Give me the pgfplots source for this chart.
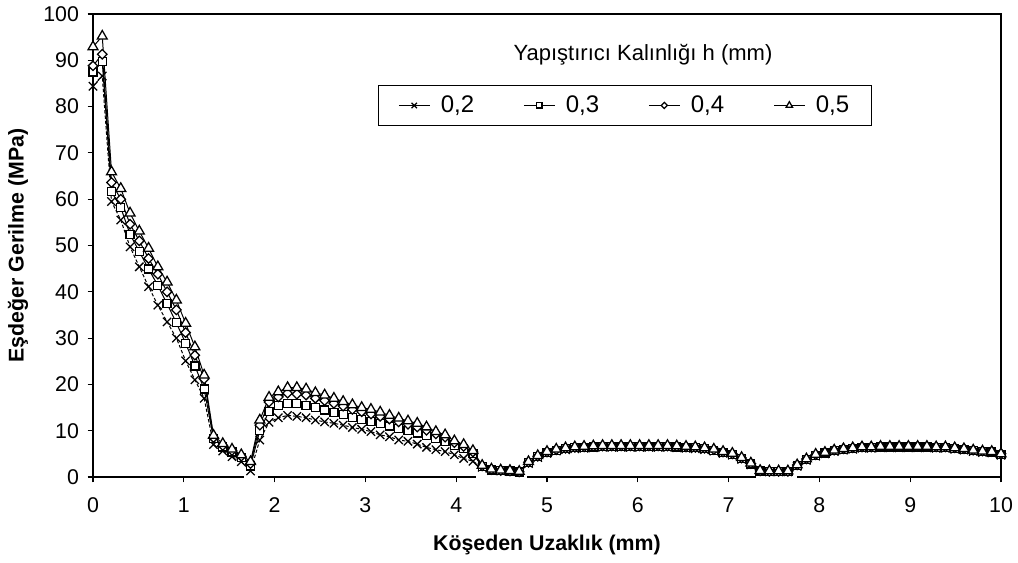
\documentclass[border=0pt]{standalone}
\usepackage{pgfplots}
\pgfplotsset{compat=1.18}
\usepackage{pgfplotstable}
\usepackage{fontspec}
\setmainfont{Liberation Sans}
\pgfplotstableread{
x s02 s03 s04 s05
0.000 84.4 87.5 88.8 92.9
0.102 86.6 89.7 91.3 95.2
0.204 59.5 61.6 63.6 65.9
0.306 55.5 58.2 60.0 62.3
0.408 49.7 52.4 54.6 57.0
0.510 45.4 48.7 51.0 53.1
0.612 41.1 44.9 47.2 49.4
0.714 37.1 41.4 43.8 45.4
0.816 33.5 37.4 40.0 42.1
0.918 30.0 33.3 36.1 38.2
1.020 25.1 28.9 31.2 33.2
1.122 21.0 24.0 26.3 28.1
1.224 17.0 19.0 21.2 22.0
1.327 7.0 8.3 8.5 9.0
1.429 5.6 6.5 6.8 7.2
1.531 4.4 5.4 5.7 6.0
1.633 3.3 4.2 4.5 4.8
1.735 1.3 2.4 2.9 3.3
1.837 8.0 10.0 11.2 12.3
1.939 11.8 14.2 16.2 17.2
2.041 12.8 15.5 17.3 18.4
2.143 13.3 15.8 18.1 19.3
2.245 13.1 15.8 17.9 19.3
2.347 12.8 15.4 17.7 19.0
2.449 12.3 15.0 17.0 18.2
2.551 11.9 14.5 16.5 17.7
2.653 11.6 14.0 15.9 17.0
2.755 11.2 13.5 15.3 16.3
2.857 10.7 12.9 14.6 15.6
2.959 10.3 12.4 14.1 15.0
3.061 9.8 12.0 13.6 14.6
3.163 9.1 11.5 13.1 14.0
3.265 8.7 11.0 12.5 13.3
3.367 8.0 10.5 11.9 12.7
3.469 7.7 10.0 11.4 12.1
3.571 7.1 9.5 10.8 11.6
3.673 6.4 8.9 10.1 10.8
3.776 5.9 8.3 9.3 9.8
3.878 5.5 7.7 8.6 9.1
3.980 4.8 6.8 7.4 7.8
4.082 4.0 6.1 6.6 7.0
4.184 3.4 5.0 5.4 5.7
4.286 2.1 2.3 2.4 2.5
4.388 1.4 1.5 1.6 1.7
4.490 1.3 1.4 1.4 1.5
4.592 1.2 1.3 1.3 1.4
4.694 1.0 1.1 1.1 1.2
4.796 2.9 3.1 3.2 3.3
4.898 4.2 4.4 4.5 4.6
5.000 5.1 5.3 5.4 5.5
5.102 5.6 5.8 5.9 6.0
5.204 5.9 6.1 6.2 6.3
5.306 6.1 6.3 6.4 6.5
5.408 6.2 6.4 6.5 6.6
5.510 6.3 6.5 6.6 6.7
5.612 6.4 6.6 6.7 6.8
5.714 6.4 6.6 6.7 6.8
5.816 6.4 6.6 6.7 6.8
5.918 6.4 6.6 6.7 6.8
6.020 6.4 6.6 6.7 6.8
6.122 6.4 6.6 6.7 6.8
6.224 6.4 6.6 6.7 6.8
6.327 6.4 6.6 6.7 6.8
6.429 6.3 6.5 6.6 6.7
6.531 6.2 6.4 6.5 6.6
6.633 6.1 6.3 6.4 6.5
6.735 5.9 6.1 6.2 6.3
6.837 5.6 5.8 5.9 6.0
6.939 5.1 5.3 5.4 5.5
7.041 4.7 4.9 5.0 5.1
7.143 3.8 4.0 4.1 4.2
7.245 2.6 2.8 2.9 3.0
7.347 1.2 1.3 1.3 1.4
7.449 1.1 1.2 1.2 1.3
7.551 1.1 1.2 1.2 1.3
7.653 1.1 1.2 1.2 1.3
7.755 2.3 2.5 2.6 2.6
7.857 3.6 3.8 3.9 3.9
7.959 4.5 4.7 4.8 4.9
8.061 5.0 5.2 5.3 5.3
8.163 5.5 5.7 5.8 5.8
8.265 5.8 6.0 6.1 6.1
8.367 6.0 6.2 6.3 6.3
8.469 6.2 6.4 6.5 6.5
8.571 6.2 6.4 6.5 6.5
8.673 6.3 6.5 6.6 6.6
8.776 6.3 6.5 6.6 6.6
8.878 6.3 6.5 6.6 6.6
8.980 6.3 6.5 6.6 6.6
9.082 6.3 6.5 6.6 6.6
9.184 6.3 6.5 6.6 6.6
9.286 6.2 6.4 6.5 6.5
9.388 6.2 6.4 6.5 6.5
9.490 6.0 6.2 6.3 6.3
9.592 5.8 6.0 6.1 6.1
9.694 5.5 5.7 5.8 5.8
9.796 5.3 5.5 5.6 5.6
9.898 5.2 5.4 5.5 5.5
10.000 4.7 4.9 5.0 5.0
}\datatable
\begin{document}
\begin{tikzpicture}
\path[use as bounding box] (-69.75pt,-63.75pt) rectangle (693.75pt,357.75pt);
\begin{axis}[
  at={(0pt,0pt)}, anchor=south west,
  scale only axis, width=681pt, height=347.25pt,
  xmin=0, xmax=10, ymin=0, ymax=100,
  xtick={0,1,...,10}, ytick={0,10,...,100},
  tick pos=left, tick align=outside, major tick length=4pt,
  axis line style={line width=0.8pt},
  every tick/.style={black, line width=0.8pt},
  clip=false,
  /pgf/number format/assume math mode=true,
  tick label style={font=\fontsize{16}{19}\selectfont},
  xticklabel style={yshift=-8pt},
  yticklabel style={xshift=-3pt},
  xlabel={Köşeden Uzaklık (mm)},
  ylabel={Eşdeğer Gerilme (MPa)},
  every axis x label/.style={at={(axis description cs:0.5,-0.1469)}, anchor=center,
    font=\fontsize{16}{19}\selectfont\bfseries},
  every axis y label/.style={at={(axis description cs:-0.0826,0.5)}, rotate=90, anchor=center,
    font=\fontsize{16}{19}\selectfont\bfseries},
  legend columns=4,
  legend cell align=left,
  legend style={at={(rel axis cs:0.3139,0.8467)}, anchor=north west, draw=black, line width=0.6pt,
    font=\fontsize{18}{21}\selectfont, inner xsep=15pt, inner ysep=6pt,
    /tikz/every odd column/.append style={column sep=6pt},
    /tikz/every even column/.append style={column sep=35pt}},
  legend image code/.code={\draw[mark repeat=2, mark phase=2] plot coordinates {(0pt,0pt) (11.5pt,0pt) (23pt,0pt)};},
  legend image post style={/tikz/every mark/.append style={scale=0.65}},
]
\draw[white, line width=2.4pt] (axis cs:1.66,0) -- (axis cs:1.82,0);
\draw[white, line width=2.4pt] (axis cs:4.22,0) -- (axis cs:4.78,0);
\draw[white, line width=2.4pt] (axis cs:7.30,0) -- (axis cs:7.75,0);
\addlegendimage{black, line width=0.75pt, mark=x, mark size=4.4pt, mark options={solid, line width=0.9pt}}
\addlegendentry{0,2}
\addplot[black, line width=0.75pt, dash pattern=on 2.5pt off 1.5pt, mark=x, mark size=4.4pt,
  mark options={solid, line width=0.95pt}, forget plot] table[x=x, y=s02] {\datatable};
\addplot[black, line width=0.75pt, mark=square*, mark size=3pt,
  mark options={solid, fill=white, line width=0.95pt}] table[x=x, y=s03] {\datatable};
\addlegendentry{0,3}
\addplot[black, line width=0.75pt, mark=square*, mark size=2.5pt,
  mark options={solid, rotate=45, fill=white, line width=0.95pt}] table[x=x, y=s04] {\datatable};
\addlegendentry{0,4}
\addplot[black, line width=0.75pt, mark=triangle*, mark size=4.3pt,
  mark options={solid, fill=white, line width=0.95pt}] table[x=x, y=s05] {\datatable};
\addlegendentry{0,5}
\node[font=\fontsize{16.5}{19}\selectfont] at (rel axis cs:0.6057,0.9114) {Yapıştırıcı Kalınlığı h (mm)};
\end{axis}
\end{tikzpicture}
\end{document}
